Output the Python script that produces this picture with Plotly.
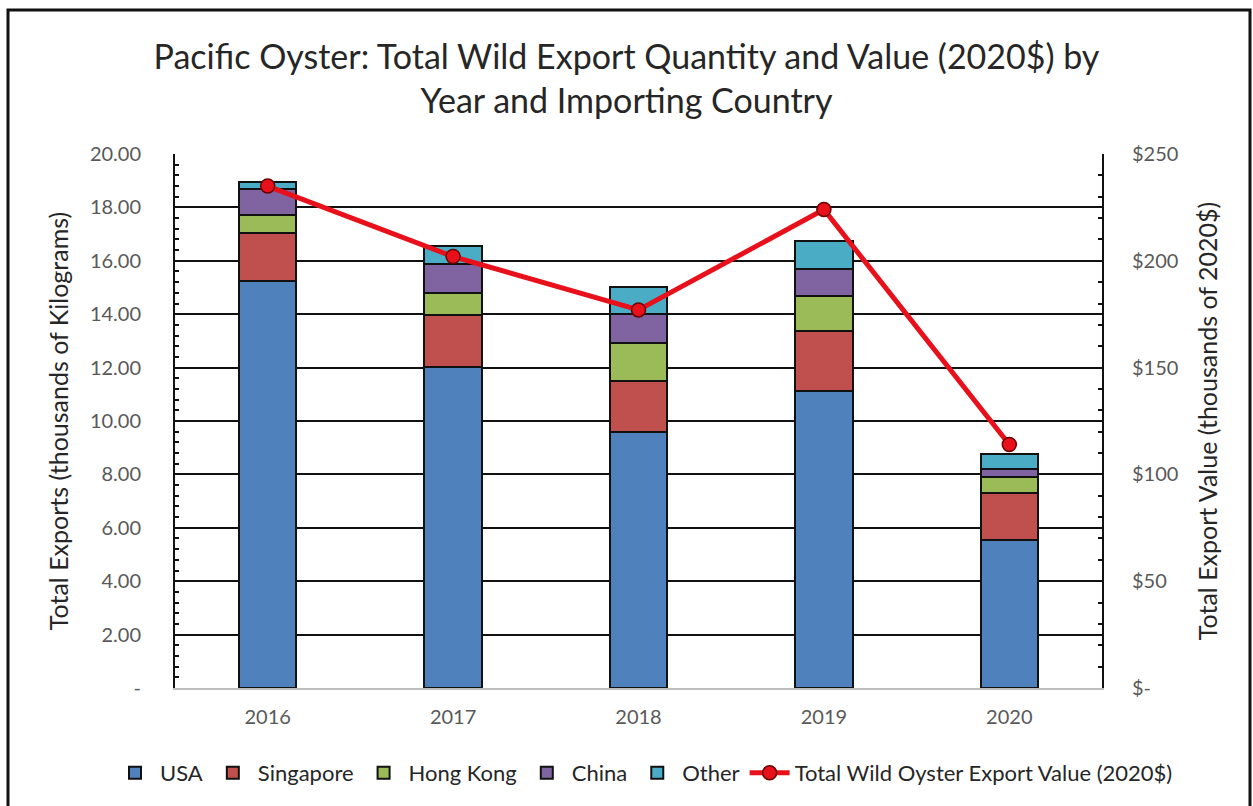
import plotly.graph_objects as go

years = ["2016", "2017", "2018", "2019", "2020"]
usa = [15.25, 12.03, 9.60, 11.14, 5.54]
singapore = [1.80, 1.95, 1.91, 2.23, 1.77]
hong_kong = [0.67, 0.80, 1.42, 1.31, 0.60]
china = [0.97, 1.09, 1.07, 1.01, 0.30]
other = [0.27, 0.68, 1.02, 1.06, 0.55]
total_value = [235, 202, 177, 224, 114]

left_tickvals = [0, 2, 4, 6, 8, 10, 12, 14, 16, 18, 20]
left_ticktext = ["-", "2.00", "4.00", "6.00", "8.00", "10.00", "12.00", "14.00", "16.00", "18.00", "20.00"]
right_tickvals = [0, 50, 100, 150, 200, 250]
right_ticktext = ["$-", "$50", "$100", "$150", "$200", "$250"]

series = [
    ("USA", usa, "#4F81BD"),
    ("Singapore", singapore, "#C0504D"),
    ("Hong Kong", hong_kong, "#9BBB59"),
    ("China", china, "#8064A2"),
    ("Other", other, "#4BACC6"),
]

FONT = "Lato"
fig = go.Figure()
for name, vals, col in series:
    fig.add_trace(go.Bar(
        x=years, y=vals, name=name, marker=dict(color=col, line=dict(color="#111111", width=2)),
        width=0.31, yaxis="y",
    ))
fig.add_trace(go.Scatter(
    x=years, y=total_value, name="Total Wild Oyster Export Value (2020$)", yaxis="y2",
    mode="lines+markers",
    line=dict(color="#E8101A", width=5),
    marker=dict(size=14, color="#E8101A", line=dict(color="#6B0000", width=1.5)),
))

W, H = 1253, 806
L, R, T, B = 175, 151, 154, 118
pw, ph = W - L - R, H - T - B

def px2x(p):
    return (p - L) / pw

def px2y(p):
    return (H - B - p) / ph

fig.update_layout(
    width=W, height=H,
    margin=dict(l=L, r=R, t=T, b=B, autoexpand=False),
    paper_bgcolor="white", plot_bgcolor="white",
    barmode="stack",
    font=dict(family=FONT, color="#595959", size=20),
    title=dict(
        text="Pacific Oyster: Total Wild Export Quantity and Value (2020$) by<br>Year and Importing Country",
        x=0.5, xanchor="center", y=1 - 69 / H, yanchor="middle",
        font=dict(family=FONT, size=34, color="#262626"),
    ),
    xaxis=dict(
        type="category", showline=True, linecolor="#BFBFBF", linewidth=2,
        ticks="", showgrid=False, tickfont=dict(size=20, color="#595959"),
        ticklabelstandoff=10,
    ),
    yaxis=dict(
        range=[0, 20], tickvals=left_tickvals, ticktext=left_ticktext,
        showgrid=True, gridcolor="#111111", gridwidth=2,
        showline=True, linecolor="#111111", linewidth=2,
        ticks="inside", ticklen=6, tickwidth=2, tickcolor="#111111",
        minor=dict(dtick=0.4, ticks="inside", ticklen=4, tickwidth=1.5, tickcolor="#111111", showgrid=False),
        ticklabelstandoff=28, zeroline=False,
        tickfont=dict(size=20, color="#595959"),
        title=dict(text="Total Exports (thousands of Kilograms)", font=dict(size=25, color="#262626"), standoff=14),
    ),
    yaxis2=dict(
        overlaying="y", side="right", range=[0, 250],
        tickvals=right_tickvals, ticktext=right_ticktext,
        showgrid=False, showline=True, linecolor="#111111", linewidth=2,
        ticks="inside", ticklen=6, tickwidth=2, tickcolor="#111111",
        minor=dict(dtick=10, ticks="inside", ticklen=4, tickwidth=1.5, tickcolor="#111111", showgrid=False),
        ticklabelstandoff=24, zeroline=False,
        tickfont=dict(size=20, color="#595959"),
        title=dict(text="Total Export Value (thousands of 2020$)", font=dict(size=25, color="#262626"), standoff=22),
    ),
    legend=dict(
        orientation="h",
        x=px2x(110), xanchor="left", y=px2y(773), yanchor="middle",
        font=dict(size=22, color="#262626"), traceorder="normal", itemwidth=40,
        bgcolor="rgba(0,0,0,0)",
    ),
    shapes=[dict(
        type="rect", xref="paper", yref="paper",
        x0=px2x(8), x1=px2x(1250), y0=px2y(830), y1=px2y(10),
        line=dict(color="#111111", width=3), fillcolor="rgba(0,0,0,0)", layer="below",
    )],
)

fig.write_html(
    "out.html",
    config={"displayModeBar": False},
    post_script="document.body.style.margin='0';document.body.style.overflow='hidden';",
)
